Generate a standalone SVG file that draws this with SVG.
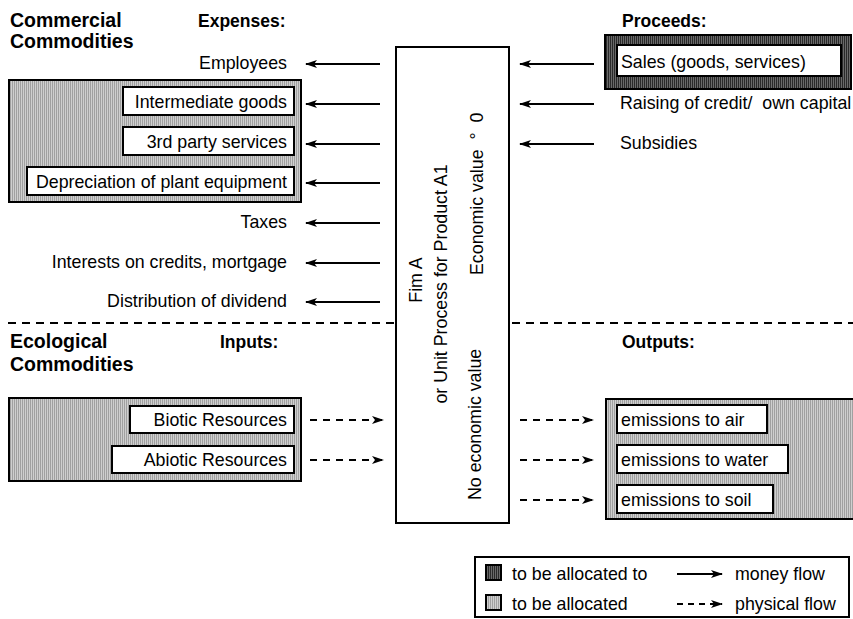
<svg xmlns="http://www.w3.org/2000/svg" width="853" height="619" viewBox="0 0 853 619">
<defs>
<pattern id="lightHatch" width="2" height="4" patternUnits="userSpaceOnUse">
<rect width="2" height="4" fill="#cfcfcf"/>
<rect width="1" height="4" fill="#a0a0a0"/>
</pattern>
<pattern id="darkHatch" width="2" height="4" patternUnits="userSpaceOnUse">
<rect width="2" height="4" fill="#6a6a6a"/>
<rect width="1" height="4" fill="#2a2a2a"/>
</pattern>
<marker id="ah" viewBox="0 0 12 8" refX="11" refY="4" markerWidth="12" markerHeight="8" markerUnits="userSpaceOnUse" orient="auto">
<path d="M0,0 L12,4 L0,8 L3,4 Z" fill="#000"/>
</marker>
</defs>
<style>
text{font-family:"Liberation Sans",Arial,Helvetica,sans-serif;font-size:17.8px;fill:#000;white-space:pre}
.b{font-weight:bold;font-size:17.5px}
.big{font-weight:bold;font-size:19.5px}
.r{text-anchor:end}
.lg{fill:url(#lightHatch);stroke:#000;stroke-width:2}
.dg{fill:url(#darkHatch);stroke:#000;stroke-width:2}
.wb{fill:#fff;stroke:#000;stroke-width:2}
.money{stroke:#000;stroke-width:2;fill:none;marker-end:url(#ah)}
.phys{stroke:#000;stroke-width:2;fill:none;stroke-dasharray:7 6;marker-end:url(#ah)}
</style>
<rect width="853" height="619" fill="#fff"/>

<g id="headers">
<text class="big" x="10" y="27">Commercial</text>
<text class="big" x="10" y="48">Commodities</text>
<text class="b" x="198" y="27">Expenses:</text>
<text class="b" x="622" y="27">Proceeds:</text>
<text class="big" x="10" y="348">Ecological</text>
<text class="big" x="10" y="371">Commodities</text>
<text class="b" x="220" y="348">Inputs:</text>
<text class="b" x="622" y="348">Outputs:</text>
</g>

<g id="separator">
<line x1="8" y1="323" x2="853" y2="323" stroke="#000" stroke-width="2" stroke-dasharray="8 6"/>
</g>

<g id="firm">
<rect x="396" y="47" width="113" height="476" fill="#fff" stroke="#000" stroke-width="2"/>
<text transform="translate(422,280) rotate(-90)" text-anchor="middle">Fim A</text>
<text transform="translate(447,284) rotate(-90)" text-anchor="middle">or Unit Process for Product A1</text>
<text transform="translate(483,275) rotate(-90)" xml:space="preserve">Economic value  °  0</text>
<text transform="translate(481,500) rotate(-90)">No economic value</text>
</g>

<g id="commercial-expenses">
<rect class="lg" x="9" y="80" width="292" height="122"/>
<text class="r" x="287" y="69">Employees</text>
<rect class="wb" x="123" y="87" width="171" height="28"/>
<text class="r" x="287" y="108">Intermediate goods</text>
<rect class="wb" x="123" y="127" width="171" height="28"/>
<text class="r" x="287" y="148">3rd party services</text>
<rect class="wb" x="27" y="167" width="267" height="28"/>
<text class="r" x="287" y="188">Depreciation of plant equipment</text>
<text class="r" x="287" y="228">Taxes</text>
<text class="r" x="287" y="268">Interests on credits, mortgage</text>
<text class="r" x="287" y="307">Distribution of dividend</text>
</g>

<g id="proceeds">
<rect class="dg" x="605" y="35" width="246" height="54"/>
<rect class="wb" x="617" y="45" width="224" height="31"/>
<text x="621" y="68">Sales (goods, services)</text>
<text x="620" y="109" xml:space="preserve">Raising of credit/  own capital</text>
<text x="620" y="149">Subsidies</text>
</g>

<g id="eco-inputs">
<rect class="lg" x="9" y="398" width="292" height="83"/>
<rect class="wb" x="130" y="406" width="164" height="27"/>
<text class="r" x="287" y="426">Biotic Resources</text>
<rect class="wb" x="112" y="446" width="182" height="27"/>
<text class="r" x="287" y="466">Abiotic Resources</text>
</g>

<g id="eco-outputs">
<rect class="lg" x="606" y="399" width="250" height="120"/>
<rect class="wb" x="617" y="405" width="150" height="28"/>
<text x="621" y="426">emissions to air</text>
<rect class="wb" x="617" y="445" width="171" height="28"/>
<text x="621" y="466">emissions to water</text>
<rect class="wb" x="617" y="485" width="156" height="28"/>
<text x="621" y="506">emissions to soil</text>
</g>

<g id="connectors">
<line class="money" x1="380" y1="64" x2="306" y2="64"/>
<line class="money" x1="380" y1="104" x2="306" y2="104"/>
<line class="money" x1="380" y1="144" x2="306" y2="144"/>
<line class="money" x1="380" y1="183" x2="306" y2="183"/>
<line class="money" x1="380" y1="223" x2="306" y2="223"/>
<line class="money" x1="380" y1="263" x2="306" y2="263"/>
<line class="money" x1="380" y1="302" x2="306" y2="302"/>
<line class="money" x1="594" y1="64" x2="520" y2="64"/>
<line class="money" x1="594" y1="104" x2="520" y2="104"/>
<line class="money" x1="594" y1="144" x2="520" y2="144"/>
<line class="phys" x1="310" y1="420" x2="383" y2="420"/>
<line class="phys" x1="310" y1="460" x2="383" y2="460"/>
<line class="phys" x1="520" y1="420" x2="593" y2="420"/>
<line class="phys" x1="520" y1="460" x2="593" y2="460"/>
<line class="phys" x1="520" y1="500" x2="593" y2="500"/>
</g>

<g id="legend">
<rect x="475" y="557" width="374" height="60" fill="#fff" stroke="#000" stroke-width="2"/>
<rect class="dg" x="486" y="565" width="15" height="15"/>
<text x="512" y="580">to be allocated to</text>
<rect class="lg" x="486" y="595" width="15" height="15"/>
<text x="512" y="610">to be allocated</text>
<line class="money" x1="677" y1="574" x2="722" y2="574"/>
<text x="735" y="580">money flow</text>
<line x1="677" y1="604" x2="722" y2="604" stroke="#000" stroke-width="2" stroke-dasharray="6 5" marker-end="url(#ah)"/>
<text x="735" y="610">physical flow</text>
</g>
</svg>
